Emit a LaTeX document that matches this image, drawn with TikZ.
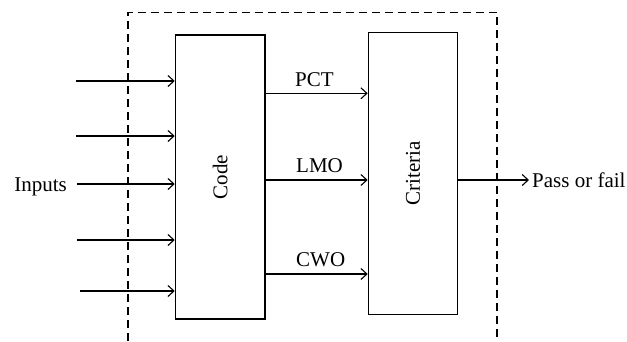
\documentclass[tikz,border=0pt]{standalone}
\usepackage{fontspec}
\setmainfont{Liberation Serif}
\usetikzlibrary{arrows.meta}
\begin{document}
\begin{tikzpicture}[x=1pt,y=-1pt,
  every node/.style={font=\fontsize{21}{24}\selectfont},
  blk/.style={draw,line width=1.2pt,rectangle,inner sep=0pt},
  lbl/.style={inner sep=0pt},
  arr/.style={line width=1.2pt,-{Straight Barb[length=6pt,width=11pt,line width=1.1pt]}},
  frame/.style={line width=1.1pt,dash pattern=on 8pt off 5pt}]
\useasboundingbox (0,0) rectangle (627,341);
\draw[frame] (128,341) -- (128,12.7) -- (497,12.7) -- (497,341);
\node[blk,minimum width=89.7pt,minimum height=284pt] (code) at (220.2,177) {};
\node[lbl,rotate=90] at (code.center) {Code};
\node[blk,minimum width=89.4pt,minimum height=281.6pt] (crit) at (413,173.5) {};
\node[lbl,rotate=90] at (crit.center) {Criteria};
% inputs
\coordinate (i1) at (76,81);
\coordinate (i2) at (76,136);
\coordinate (i3) at (77,184);
\coordinate (i4) at (77,240);
\coordinate (i5) at (80,291);
\foreach \c in {i1,i2,i3,i4,i5} \draw[arr] (\c) -- (\c -| code.west);
\node[lbl,anchor=base east] (inp) at (67,191) {Inputs};
% code to criteria
\coordinate (o1) at (264,93.3);
\coordinate (o2) at (264,180);
\coordinate (o3) at (264,274);
\foreach \c in {o1,o2,o3} \draw[arr] (code.east |- \c) -- (crit.west |- \c);
\node[lbl,anchor=base west] (pct) at (295,86) {PCT};
\node[lbl,anchor=base west] (lmo) at (296,172.7) {LMO};
\node[lbl,anchor=base west] (cwo) at (296,266) {CWO};
% output
\coordinate (out) at (529,180);
\draw[arr] (crit.east |- out) -- (out);
\node[lbl,anchor=base west] (pf) at (532,187) {Pass or fail};
\end{tikzpicture}
\end{document}
